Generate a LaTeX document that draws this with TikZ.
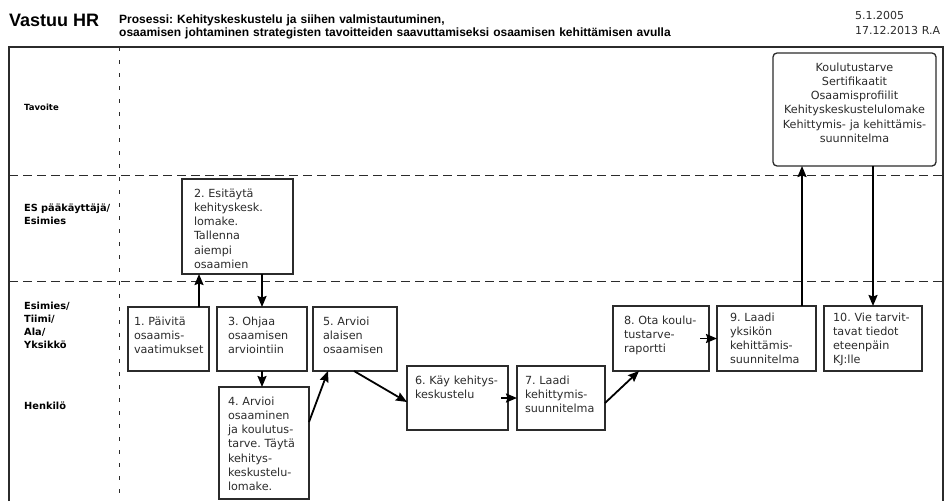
\documentclass[tikz,border=0pt]{standalone}
\usepackage{fontspec}
\setmainfont{DejaVu Sans}
\newfontfamily\headfont{Liberation Sans}
\definecolor{ink}{HTML}{2B2B2B}
\usetikzlibrary{arrows.meta,positioning}

\begin{document}
\frenchspacing
\begin{tikzpicture}[x=1pt,y=-1pt,
  stepbox/.style={draw=ink,line width=1.3pt,anchor=north west,inner ysep=0pt,outer sep=0pt,
    align=left,text=ink,font=\fontsize{11.2}{14.3}\selectfont,text height=18pt},
  lane/.style={anchor=base west,align=left,inner sep=0pt,text width=120pt,
    font=\bfseries\fontsize{9.8}{13}\selectfont},
  flow/.style={-{Stealth[length=11pt,width=9pt,inset=1.5pt]},line width=1.8pt},
  sep/.style={ink,line width=.9pt,dash pattern=on 9pt off 5pt}]
\useasboundingbox (0,0) rectangle (951,501);
% header
\node[anchor=base west,inner sep=0pt,font=\headfont\bfseries\fontsize{18}{20}\selectfont] (vastuu) at (9,26) {Vastuu HR};
\node[anchor=base west,inner sep=0pt,align=left,text width=700pt,font=\headfont\bfseries\fontsize{12}{13}\selectfont] (prosessi) at (119,23)
  {Prosessi: Kehityskeskustelu ja siihen valmistautuminen,\\osaamisen johtaminen strategisten tavoitteiden saavuttamiseksi osaamisen kehittämisen avulla};
\node[anchor=base west,inner sep=0pt,align=left,text width=95pt,text=ink,font=\fontsize{11}{15}\selectfont] (pvm) at (855,19) {5.1.2005\\17.12.2013 R.A};
% frame and lanes
\draw[ink,line width=1.5pt] (9,501) |- (943,47) -- (943,501);
\draw[sep] (9,175) -- (943,175);
\draw[sep] (9,281) -- (943,281);
\draw[ink,line width=.9pt,dash pattern=on 4pt off 9pt] (119.5,47) -- (119.5,501);
\node[lane,font=\bfseries\fontsize{8.5}{11}\selectfont] (tavoite) at (24,110) {Tavoite};
\node[lane] (espk) at (24,211) {ES pääkäyttäjä/\\Esimies};
\node[lane] (esimies) at (24,309) {Esimies/\\Tiimi/\\Ala/\\Yksikkö};
\node[lane] (henkilo) at (24,409) {Henkilö};
% steps
\node[stepbox,inner xsep=6pt,text width=69pt,text depth=46pt] (b1) at (128,307) {1. Päivitä\\osaamis-\\vaatimukset};
\node[stepbox,inner xsep=12pt,text width=87pt,text depth=77pt] (b2) at (182,179) {2. Esitäytä\\kehityskesk.\\lomake.\\Tallenna\\aiempi\\osaamien};
\node[stepbox,inner xsep=11pt,text width=68pt,text depth=46pt] (b3) at (217,307) {3. Ohjaa\\osaamisen\\arviointiin};
\node[stepbox,inner xsep=9pt,text width=72pt,text depth=94pt] (b4) at (219,387) {4. Arvioi\\osaaminen\\ja koulutus-\\tarve. Täytä\\kehitys-\\keskustelu-\\lomake.};
\node[stepbox,inner xsep=10pt,text width=64pt,text depth=46pt] (b5) at (313,307) {5. Arvioi\\alaisen\\osaamisen};
\node[stepbox,inner xsep=8pt,text width=85pt,text depth=46pt] (b6) at (407,366) {6. Käy kehitys-\\keskustelu};
\node[stepbox,inner xsep=8pt,text width=72pt,text depth=46pt] (b7) at (517,366) {7. Laadi\\kehittymis-\\suunnitelma};
\node[stepbox,inner xsep=11pt,text width=74pt,text depth=47pt] (b8) at (613,306) {8. Ota koulu-\\tustarve-\\raportti};
\node[stepbox,inner xsep=13pt,text width=73pt,text height=15pt,text depth=50pt] (b9) at (717,306) {9. Laadi\\yksikön\\kehittämis-\\suunnitelma};
\node[stepbox,inner xsep=9pt,text width=80pt,text height=15pt,text depth=50pt] (b10) at (824,306) {10. Vie tarvit-\\tavat tiedot\\eteenpäin\\KJ:lle};
\node[stepbox,rounded corners=4pt,align=center,inner xsep=6pt,text width=151pt,text depth=95pt] (goal) at (773,53)
  {Koulutustarve\\Sertifikaatit\\Osaamisprofiilit\\Kehityskeskustelulomake\\Kehittymis- ja kehittämis-\\suunnitelma};
% connectors
\coordinate (p1) at ([xshift=-10pt]b1.north east);
\draw[flow] (p1) -- (p1 |- b2.south);
\draw[flow] (b3.north |- b2.south) -- (b3.north);
\draw[flow] (b3.south) -- (b3.south |- b4.north);
\draw[flow] ([yshift=-35pt]b4.north east) -- ([xshift=15pt]b5.south west);
\draw[flow] ([xshift=41pt]b5.south west) -- ([yshift=-36pt]b6.north west);
\draw[flow] ([xshift=-7pt]b6.east) -- (b7.west);
\draw[flow] ([yshift=-37pt]b7.north east) -- ([xshift=26pt]b8.south west);
\draw[flow] ([xshift=-9pt]b8.east) -- (b9.west);
\coordinate (p9) at ([xshift=-14pt]b9.north east);
\draw[flow] (p9) -- (p9 |- goal.south);
\draw[flow] (goal.south -| b10.north) -- (b10.north);
\end{tikzpicture}
\end{document}
